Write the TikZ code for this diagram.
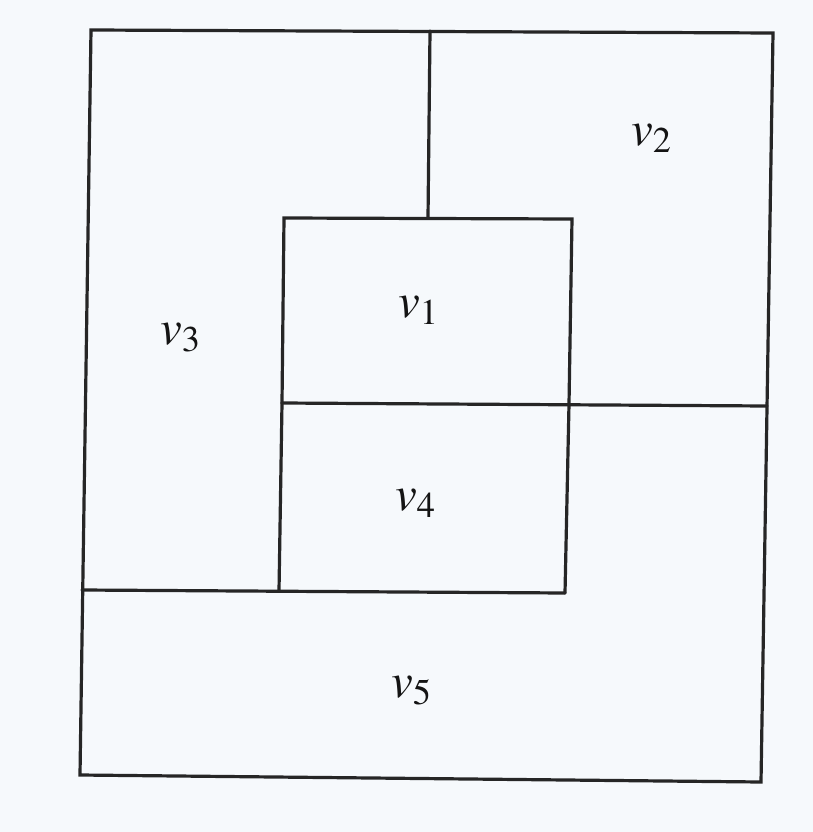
\documentclass[tikz,border=0pt]{standalone}
\usepackage{mathptmx}
\begin{document}
\begin{tikzpicture}[x=1pt,y=-1pt,
  wall/.style={draw=black!85,line width=3.2pt,line join=miter,line cap=round},
  lab/.style={anchor=base west,inner sep=0pt,text=black!92,font=\fontsize{49}{55}\selectfont}]
\definecolor{paper}{RGB}{246,249,252}
\fill[paper] (0,0) rectangle (813,832);
\useasboundingbox (0,0) rectangle (813,832);
% outer frame
\draw[wall] (91,30) -- (773,33) -- (761,782) -- (80,775) -- cycle;
% top divider
\draw[wall] (430,31) -- (428,218);
% v1 box top + sides
\draw[wall] (282,403) -- (284,218) -- (572,219) -- (569,404);
% middle horizontal
\draw[wall] (282,403) -- (767,406);
% v4 box
\draw[wall] (282,403) -- (279,591);
\draw[wall] (569,404) -- (565,593);
% bottom horizontal
\draw[wall] (82,590) -- (565,593);
% labels
\node[lab] (n1) at (398,317) {$v_1$};
\node[lab] (n2) at (631,145) {$v_2$};
\node[lab] (n3) at (160,344) {$v_3$};
\node[lab] (n4) at (395,510) {$v_4$};
\node[lab] (n5) at (391,697) {$v_5$};
\end{tikzpicture}
\end{document}
